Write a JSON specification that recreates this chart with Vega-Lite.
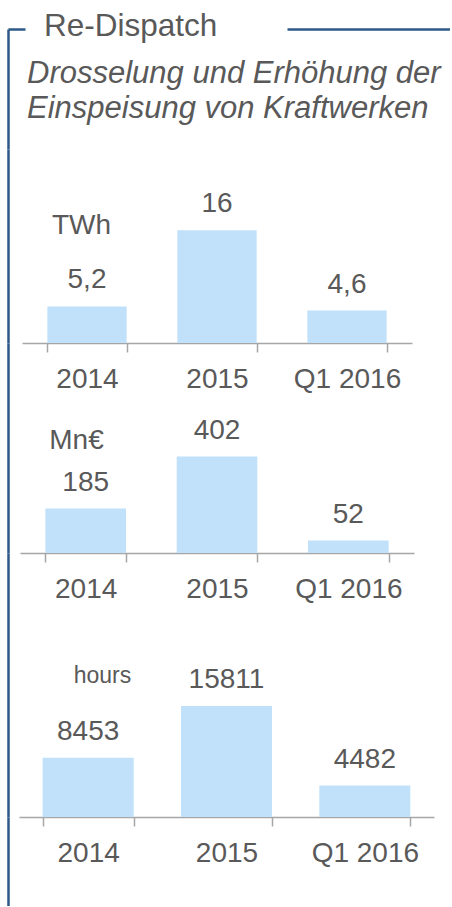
{
  "$schema": "https://vega.github.io/schema/vega-lite/v6.json",
  "padding": {"left": 8, "top": 10, "right": 0, "bottom": 0},
  "bounds": "flush",
  "spacing": 0,
  "title": {
    "text": "Re-Dispatch",
    "anchor": "start",
    "orient": "top",
    "frame": "group",
    "offset": -13,
    "dx": 36,
    "font": "Liberation Sans",
    "fontSize": 31.5,
    "fontWeight": "normal",
    "color": "#595959"
  },
  "config": {
    "font": "Liberation Sans",
    "view": {"stroke": null},
    "axisX": {
      "domainColor": "#a6a6a6",
      "domainWidth": 1.5,
      "tickColor": "#a6a6a6",
      "tickWidth": 1.5,
      "tickSize": 9,
      "labelFontSize": 28,
      "labelColor": "#595959",
      "labelPadding": 13,
      "labelAngle": 0,
      "grid": false
    },
    "axisY": {
      "domainColor": "#2c5987",
      "domainWidth": 2.5,
      "ticks": false,
      "labels": false,
      "grid": false,
      "titleAngle": 0,
      "titleAlign": "center",
      "titleBaseline": "alphabetic",
      "titleFontWeight": "normal",
      "titleColor": "#595959",
      "titleFontSize": 28
    }
  },
  "datasets": {
    "twh": [
      {"period": "2014", "value": 5.2, "label": "5,2"},
      {"period": "2015", "value": 16, "label": "16"},
      {"period": "Q1 2016", "value": 4.6, "label": "4,6"}
    ],
    "eur": [
      {"period": "2014", "value": 185, "label": "185"},
      {"period": "2015", "value": 402, "label": "402"},
      {"period": "Q1 2016", "value": 52, "label": "52"}
    ],
    "hours": [
      {"period": "2014", "value": 8453, "label": "8453"},
      {"period": "2015", "value": 15811, "label": "15811"},
      {"period": "Q1 2016", "value": 4482, "label": "4482"}
    ]
  },
  "vconcat": [
    {
      "width": 442,
      "height": 120,
      "title": {
        "text": ["Drosselung und Erhöhung der", "Einspeisung von Kraftwerken"],
        "anchor": "start",
        "orient": "top",
        "frame": "group",
        "offset": -96,
        "dx": 19,
        "font": "Liberation Sans",
        "fontSize": 31,
        "fontStyle": "italic",
        "fontWeight": "normal",
        "color": "#595959",
        "lineHeight": 35
      },
      "data": {"values": []},
      "mark": "point",
      "encoding": {
        "x": {
          "field": "a", "type": "quantitative",
          "scale": {"domain": [0, 1]},
          "axis": {"orient": "top", "labels": false, "ticks": false, "title": null, "domain": true, "domainColor": "#2c5987", "domainWidth": 2.5, "domainDash": [17, 262, 400], "grid": false}
        },
        "y": {
          "field": "b", "type": "quantitative",
          "scale": {"domain": [0, 1]},
          "axis": {"title": null}
        }
      }
    },
    {
      "width": 442,
      "height": 194,
      "data": {"name": "twh"},
      "encoding": {
        "x": {
          "field": "period", "type": "nominal", "sort": null,
          "scale": {"range": [14, 404], "paddingInner": 0.39, "paddingOuter": 0.195},
          "axis": {"title": null, "tickBand": "extent"}
        },
        "y": {
          "field": "value", "type": "quantitative",
          "scale": {"domain": [0, 27.56], "nice": false},
          "axis": {"title": "TWh", "titleX": 73, "titleY": 84}
        }
      },
      "layer": [
        {"mark": {"type": "bar", "color": "#c0e1f9"}},
        {"mark": {"type": "text", "dy": -18, "baseline": "alphabetic", "fontSize": 28, "color": "#595959"}, "encoding": {"text": {"field": "label"}}}
      ]
    },
    {
      "width": 442,
      "height": 210,
      "data": {"name": "eur"},
      "encoding": {
        "x": {
          "field": "period", "type": "nominal", "sort": null,
          "scale": {"range": [12, 406], "paddingInner": 0.386, "paddingOuter": 0.193},
          "axis": {"title": null, "tickBand": "extent"}
        },
        "y": {
          "field": "value", "type": "quantitative",
          "scale": {"domain": [0, 875], "nice": false},
          "axis": {"title": "Mn€", "titleX": 68, "titleY": 105}
        }
      },
      "layer": [
        {"mark": {"type": "bar", "color": "#c0e1f9"}},
        {"mark": {"type": "text", "dy": -18, "baseline": "alphabetic", "fontSize": 28, "color": "#595959"}, "encoding": {"text": {"field": "label"}}}
      ]
    },
    {
      "width": 442,
      "height": 264,
      "data": {"name": "hours"},
      "encoding": {
        "x": {
          "field": "period", "type": "nominal", "sort": null,
          "scale": {"range": [11, 426], "paddingInner": 0.342, "paddingOuter": 0.171},
          "axis": {"title": null, "tickBand": "extent"}
        },
        "y": {
          "field": "value", "type": "quantitative",
          "scale": {"domain": [0, 37607], "nice": false},
          "axis": {"title": "hours", "titleX": 94, "titleY": 129, "titleFontSize": 23}
        }
      },
      "layer": [
        {"mark": {"type": "bar", "color": "#c0e1f9"}},
        {"mark": {"type": "text", "dy": -18, "baseline": "alphabetic", "fontSize": 28, "color": "#595959"}, "encoding": {"text": {"field": "label"}}}
      ]
    },
    {
      "width": 442,
      "height": 89,
      "data": {"values": []},
      "mark": "point",
      "encoding": {
        "y": {
          "field": "b", "type": "quantitative",
          "scale": {"domain": [0, 1]},
          "axis": {"title": null}
        }
      }
    }
  ]
}
